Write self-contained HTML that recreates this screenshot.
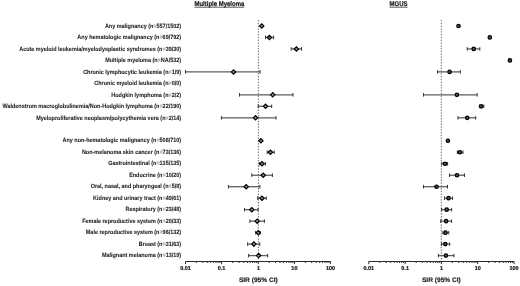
<!DOCTYPE html><html><head><meta charset="utf-8"><style>html,body{margin:0;padding:0;background:#fff;width:520px;height:286px;overflow:hidden}svg{display:block;will-change:transform}text{font-family:"Liberation Sans",sans-serif;font-weight:bold;fill:#1c1c1c;stroke:#1c1c1c;stroke-width:0.07px;text-rendering:geometricPrecision}</style></head><body>
<svg width="520" height="286" viewBox="0 0 520 286">
<g>
<text transform="translate(219.4,6.0) scale(0.88,1)" font-size="6.8" text-anchor="middle" style="stroke:#111;stroke-width:0.2px">Multiple Myeloma</text>
<line x1="194.5" x2="244.2" y1="7.2" y2="7.2" stroke="#111" stroke-width="0.7"/>
<text transform="translate(398.5,6.0) scale(0.88,1)" font-size="6.8" text-anchor="middle" style="stroke:#111;stroke-width:0.2px">MGUS</text>
<line x1="389.5" x2="407.6" y1="7.2" y2="7.2" stroke="#111" stroke-width="0.7"/>
<text transform="translate(181.1,27.66) scale(0.901,1)" font-size="6.05" text-anchor="end">Any malignancy (n<tspan fill="#888" stroke="none">=</tspan>557/1502)</text>
<text transform="translate(181.1,39.14) scale(0.901,1)" font-size="6.05" text-anchor="end">Any hematologic malignancy (n<tspan fill="#888" stroke="none">=</tspan>69/792)</text>
<text transform="translate(181.1,50.62) scale(0.901,1)" font-size="6.05" text-anchor="end">Acute myeloid leukemia/myelodysplastic syndromes (n<tspan fill="#888" stroke="none">=</tspan>39/30)</text>
<text transform="translate(181.1,62.11) scale(0.901,1)" font-size="6.05" text-anchor="end">Multiple myeloma (n<tspan fill="#888" stroke="none">=</tspan>NA/532)</text>
<text transform="translate(181.1,73.59) scale(0.901,1)" font-size="6.05" text-anchor="end">Chronic lymphocytic leukemia (n<tspan fill="#888" stroke="none">=</tspan>1/9)</text>
<text transform="translate(181.1,85.07) scale(0.901,1)" font-size="6.05" text-anchor="end">Chronic myeloid leukemia (n<tspan fill="#888" stroke="none">=</tspan>0/0)</text>
<text transform="translate(181.1,96.55) scale(0.901,1)" font-size="6.05" text-anchor="end">Hodgkin lymphoma (n<tspan fill="#888" stroke="none">=</tspan>2/2)</text>
<text transform="translate(181.1,108.03) scale(0.901,1)" font-size="6.05" text-anchor="end">Waldenstrom macroglobulinemia/Non-Hodgkin lymphoma (n<tspan fill="#888" stroke="none">=</tspan>22/190)</text>
<text transform="translate(181.1,119.52) scale(0.901,1)" font-size="6.05" text-anchor="end">Myeloproliferative neoplasm/polycythemia vera (n<tspan fill="#888" stroke="none">=</tspan>2/14)</text>
<text transform="translate(181.1,142.48) scale(0.901,1)" font-size="6.05" text-anchor="end">Any non-hematologic malignancy (n<tspan fill="#888" stroke="none">=</tspan>508/710)</text>
<text transform="translate(181.1,153.96) scale(0.901,1)" font-size="6.05" text-anchor="end">Non-melanoma skin cancer (n<tspan fill="#888" stroke="none">=</tspan>73/136)</text>
<text transform="translate(181.1,165.44) scale(0.901,1)" font-size="6.05" text-anchor="end">Gastrointestinal (n<tspan fill="#888" stroke="none">=</tspan>135/135)</text>
<text transform="translate(181.1,176.93) scale(0.901,1)" font-size="6.05" text-anchor="end">Endocrine (n<tspan fill="#888" stroke="none">=</tspan>10/20)</text>
<text transform="translate(181.1,188.41) scale(0.901,1)" font-size="6.05" text-anchor="end">Oral, nasal, and pharyngeal (n<tspan fill="#888" stroke="none">=</tspan>5/8)</text>
<text transform="translate(181.1,199.89) scale(0.901,1)" font-size="6.05" text-anchor="end">Kidney and urinary tract (n<tspan fill="#888" stroke="none">=</tspan>49/61)</text>
<text transform="translate(181.1,211.37) scale(0.901,1)" font-size="6.05" text-anchor="end">Respiratory (n<tspan fill="#888" stroke="none">=</tspan>23/48)</text>
<text transform="translate(181.1,222.85) scale(0.901,1)" font-size="6.05" text-anchor="end">Female reproductive system (n<tspan fill="#888" stroke="none">=</tspan>20/33)</text>
<text transform="translate(181.1,234.34) scale(0.901,1)" font-size="6.05" text-anchor="end">Male reproductive system (n<tspan fill="#888" stroke="none">=</tspan>96/132)</text>
<text transform="translate(181.1,245.82) scale(0.901,1)" font-size="6.05" text-anchor="end">Breast (n<tspan fill="#888" stroke="none">=</tspan>31/63)</text>
<text transform="translate(181.1,257.30) scale(0.901,1)" font-size="6.05" text-anchor="end">Malignant melanoma (n<tspan fill="#888" stroke="none">=</tspan>13/19)</text>
<line x1="258.4" x2="258.4" y1="20" y2="259.5" stroke="#444" stroke-width="0.8" stroke-dasharray="1.4 1.4"/>
<line x1="441.3" x2="441.3" y1="20" y2="259.5" stroke="#444" stroke-width="0.8" stroke-dasharray="1.4 1.4"/>
<line x1="185.5" x2="330.6" y1="261.5" y2="261.5" stroke="#2a2a2a" stroke-width="1"/>
<line x1="185.50" x2="185.50" y1="261.5" y2="264.1" stroke="#222" stroke-width="0.95"/>
<line x1="196.37" x2="196.37" y1="261.5" y2="263.0" stroke="#333" stroke-width="1"/>
<line x1="202.72" x2="202.72" y1="261.5" y2="263.0" stroke="#333" stroke-width="1"/>
<line x1="207.23" x2="207.23" y1="261.5" y2="263.0" stroke="#333" stroke-width="1"/>
<line x1="210.73" x2="210.73" y1="261.5" y2="263.0" stroke="#333" stroke-width="1"/>
<line x1="213.59" x2="213.59" y1="261.5" y2="263.0" stroke="#333" stroke-width="1"/>
<line x1="216.01" x2="216.01" y1="261.5" y2="263.0" stroke="#333" stroke-width="1"/>
<line x1="218.10" x2="218.10" y1="261.5" y2="263.0" stroke="#333" stroke-width="1"/>
<line x1="219.95" x2="219.95" y1="261.5" y2="263.0" stroke="#333" stroke-width="1"/>
<line x1="221.60" x2="221.60" y1="261.5" y2="264.1" stroke="#222" stroke-width="0.95"/>
<line x1="232.65" x2="232.65" y1="261.5" y2="263.0" stroke="#333" stroke-width="1"/>
<line x1="239.11" x2="239.11" y1="261.5" y2="263.0" stroke="#333" stroke-width="1"/>
<line x1="243.70" x2="243.70" y1="261.5" y2="263.0" stroke="#333" stroke-width="1"/>
<line x1="247.25" x2="247.25" y1="261.5" y2="263.0" stroke="#333" stroke-width="1"/>
<line x1="250.16" x2="250.16" y1="261.5" y2="263.0" stroke="#333" stroke-width="1"/>
<line x1="252.62" x2="252.62" y1="261.5" y2="263.0" stroke="#333" stroke-width="1"/>
<line x1="254.74" x2="254.74" y1="261.5" y2="263.0" stroke="#333" stroke-width="1"/>
<line x1="256.62" x2="256.62" y1="261.5" y2="263.0" stroke="#333" stroke-width="1"/>
<line x1="258.30" x2="258.30" y1="261.5" y2="264.1" stroke="#222" stroke-width="0.95"/>
<line x1="269.17" x2="269.17" y1="261.5" y2="263.0" stroke="#333" stroke-width="1"/>
<line x1="275.52" x2="275.52" y1="261.5" y2="263.0" stroke="#333" stroke-width="1"/>
<line x1="280.03" x2="280.03" y1="261.5" y2="263.0" stroke="#333" stroke-width="1"/>
<line x1="283.53" x2="283.53" y1="261.5" y2="263.0" stroke="#333" stroke-width="1"/>
<line x1="286.39" x2="286.39" y1="261.5" y2="263.0" stroke="#333" stroke-width="1"/>
<line x1="288.81" x2="288.81" y1="261.5" y2="263.0" stroke="#333" stroke-width="1"/>
<line x1="290.90" x2="290.90" y1="261.5" y2="263.0" stroke="#333" stroke-width="1"/>
<line x1="292.75" x2="292.75" y1="261.5" y2="263.0" stroke="#333" stroke-width="1"/>
<line x1="294.40" x2="294.40" y1="261.5" y2="264.1" stroke="#222" stroke-width="0.95"/>
<line x1="305.30" x2="305.30" y1="261.5" y2="263.0" stroke="#333" stroke-width="1"/>
<line x1="311.67" x2="311.67" y1="261.5" y2="263.0" stroke="#333" stroke-width="1"/>
<line x1="316.19" x2="316.19" y1="261.5" y2="263.0" stroke="#333" stroke-width="1"/>
<line x1="319.70" x2="319.70" y1="261.5" y2="263.0" stroke="#333" stroke-width="1"/>
<line x1="322.57" x2="322.57" y1="261.5" y2="263.0" stroke="#333" stroke-width="1"/>
<line x1="324.99" x2="324.99" y1="261.5" y2="263.0" stroke="#333" stroke-width="1"/>
<line x1="327.09" x2="327.09" y1="261.5" y2="263.0" stroke="#333" stroke-width="1"/>
<line x1="328.94" x2="328.94" y1="261.5" y2="263.0" stroke="#333" stroke-width="1"/>
<line x1="330.60" x2="330.60" y1="261.5" y2="264.1" stroke="#222" stroke-width="0.95"/>
<text x="185.50" y="269.8" font-size="5.5" text-anchor="middle" style="stroke:#111;stroke-width:0.22px">0.01</text>
<text x="221.60" y="269.8" font-size="5.5" text-anchor="middle" style="stroke:#111;stroke-width:0.22px">0.1</text>
<text x="258.45" y="269.8" font-size="5.5" text-anchor="middle" style="stroke:#111;stroke-width:0.22px">1</text>
<text x="294.40" y="269.8" font-size="5.5" text-anchor="middle" style="stroke:#111;stroke-width:0.22px">10</text>
<text x="330.60" y="269.8" font-size="5.5" text-anchor="middle" style="stroke:#111;stroke-width:0.22px">100</text>
<text x="258.30" y="282.1" font-size="6.6" text-anchor="middle" style="stroke:#111;stroke-width:0.15px">SIR (95% CI)</text>
<line x1="368.8" x2="514.1" y1="261.5" y2="261.5" stroke="#2a2a2a" stroke-width="1"/>
<line x1="368.80" x2="368.80" y1="261.5" y2="264.1" stroke="#222" stroke-width="0.95"/>
<line x1="379.76" x2="379.76" y1="261.5" y2="263.0" stroke="#333" stroke-width="1"/>
<line x1="386.17" x2="386.17" y1="261.5" y2="263.0" stroke="#333" stroke-width="1"/>
<line x1="390.71" x2="390.71" y1="261.5" y2="263.0" stroke="#333" stroke-width="1"/>
<line x1="394.24" x2="394.24" y1="261.5" y2="263.0" stroke="#333" stroke-width="1"/>
<line x1="397.12" x2="397.12" y1="261.5" y2="263.0" stroke="#333" stroke-width="1"/>
<line x1="399.56" x2="399.56" y1="261.5" y2="263.0" stroke="#333" stroke-width="1"/>
<line x1="401.67" x2="401.67" y1="261.5" y2="263.0" stroke="#333" stroke-width="1"/>
<line x1="403.53" x2="403.53" y1="261.5" y2="263.0" stroke="#333" stroke-width="1"/>
<line x1="405.20" x2="405.20" y1="261.5" y2="264.1" stroke="#222" stroke-width="0.95"/>
<line x1="416.10" x2="416.10" y1="261.5" y2="263.0" stroke="#333" stroke-width="1"/>
<line x1="422.47" x2="422.47" y1="261.5" y2="263.0" stroke="#333" stroke-width="1"/>
<line x1="426.99" x2="426.99" y1="261.5" y2="263.0" stroke="#333" stroke-width="1"/>
<line x1="430.50" x2="430.50" y1="261.5" y2="263.0" stroke="#333" stroke-width="1"/>
<line x1="433.37" x2="433.37" y1="261.5" y2="263.0" stroke="#333" stroke-width="1"/>
<line x1="435.79" x2="435.79" y1="261.5" y2="263.0" stroke="#333" stroke-width="1"/>
<line x1="437.89" x2="437.89" y1="261.5" y2="263.0" stroke="#333" stroke-width="1"/>
<line x1="439.74" x2="439.74" y1="261.5" y2="263.0" stroke="#333" stroke-width="1"/>
<line x1="441.40" x2="441.40" y1="261.5" y2="264.1" stroke="#222" stroke-width="0.95"/>
<line x1="452.33" x2="452.33" y1="261.5" y2="263.0" stroke="#333" stroke-width="1"/>
<line x1="458.72" x2="458.72" y1="261.5" y2="263.0" stroke="#333" stroke-width="1"/>
<line x1="463.25" x2="463.25" y1="261.5" y2="263.0" stroke="#333" stroke-width="1"/>
<line x1="466.77" x2="466.77" y1="261.5" y2="263.0" stroke="#333" stroke-width="1"/>
<line x1="469.65" x2="469.65" y1="261.5" y2="263.0" stroke="#333" stroke-width="1"/>
<line x1="472.08" x2="472.08" y1="261.5" y2="263.0" stroke="#333" stroke-width="1"/>
<line x1="474.18" x2="474.18" y1="261.5" y2="263.0" stroke="#333" stroke-width="1"/>
<line x1="476.04" x2="476.04" y1="261.5" y2="263.0" stroke="#333" stroke-width="1"/>
<line x1="477.70" x2="477.70" y1="261.5" y2="264.1" stroke="#222" stroke-width="0.95"/>
<line x1="488.66" x2="488.66" y1="261.5" y2="263.0" stroke="#333" stroke-width="1"/>
<line x1="495.07" x2="495.07" y1="261.5" y2="263.0" stroke="#333" stroke-width="1"/>
<line x1="499.61" x2="499.61" y1="261.5" y2="263.0" stroke="#333" stroke-width="1"/>
<line x1="503.14" x2="503.14" y1="261.5" y2="263.0" stroke="#333" stroke-width="1"/>
<line x1="506.02" x2="506.02" y1="261.5" y2="263.0" stroke="#333" stroke-width="1"/>
<line x1="508.46" x2="508.46" y1="261.5" y2="263.0" stroke="#333" stroke-width="1"/>
<line x1="510.57" x2="510.57" y1="261.5" y2="263.0" stroke="#333" stroke-width="1"/>
<line x1="512.43" x2="512.43" y1="261.5" y2="263.0" stroke="#333" stroke-width="1"/>
<line x1="514.10" x2="514.10" y1="261.5" y2="264.1" stroke="#222" stroke-width="0.95"/>
<text x="368.80" y="269.8" font-size="5.5" text-anchor="middle" style="stroke:#111;stroke-width:0.22px">0.01</text>
<text x="405.20" y="269.8" font-size="5.5" text-anchor="middle" style="stroke:#111;stroke-width:0.22px">0.1</text>
<text x="441.55" y="269.8" font-size="5.5" text-anchor="middle" style="stroke:#111;stroke-width:0.22px">1</text>
<text x="477.70" y="269.8" font-size="5.5" text-anchor="middle" style="stroke:#111;stroke-width:0.22px">10</text>
<text x="514.10" y="269.8" font-size="5.5" text-anchor="middle" style="stroke:#111;stroke-width:0.22px">100</text>
<text x="441.40" y="282.1" font-size="6.6" text-anchor="middle" style="stroke:#111;stroke-width:0.15px">SIR (95% CI)</text>
<path d="M259.55 25.96L261.75 23.76L263.95 25.96L261.75 28.16Z" fill="#8a8a8a" stroke="#000" stroke-width="1.15"/>
<line x1="265.5" x2="273.6" y1="37.44" y2="37.44" stroke="#5c5c5c" stroke-width="1.3"/><line x1="265.5" x2="265.5" y1="35.69" y2="39.19" stroke="#333" stroke-width="1"/><line x1="273.6" x2="273.6" y1="35.69" y2="39.19" stroke="#333" stroke-width="1"/>
<path d="M267.20 37.44L269.40 35.24L271.60 37.44L269.40 39.64Z" fill="#8a8a8a" stroke="#000" stroke-width="1.15"/>
<line x1="291.2" x2="301.5" y1="48.92" y2="48.92" stroke="#5c5c5c" stroke-width="1.3"/><line x1="291.2" x2="291.2" y1="47.17" y2="50.67" stroke="#333" stroke-width="1"/><line x1="301.5" x2="301.5" y1="47.17" y2="50.67" stroke="#333" stroke-width="1"/>
<path d="M294.20 48.92L296.40 46.72L298.60 48.92L296.40 51.12Z" fill="#8a8a8a" stroke="#000" stroke-width="1.15"/>
<line x1="185.5" x2="260.1" y1="71.89" y2="71.89" stroke="#5c5c5c" stroke-width="1.3"/><line x1="185.5" x2="185.5" y1="70.14" y2="73.64" stroke="#333" stroke-width="1"/><line x1="260.1" x2="260.1" y1="70.14" y2="73.64" stroke="#333" stroke-width="1"/>
<path d="M231.40 71.89L233.60 69.69L235.80 71.89L233.60 74.09Z" fill="#8a8a8a" stroke="#000" stroke-width="1.15"/>
<line x1="239.5" x2="293.0" y1="94.85" y2="94.85" stroke="#5c5c5c" stroke-width="1.3"/><line x1="239.5" x2="239.5" y1="93.10" y2="96.60" stroke="#333" stroke-width="1"/><line x1="293.0" x2="293.0" y1="93.10" y2="96.60" stroke="#333" stroke-width="1"/>
<path d="M270.50 94.85L272.70 92.65L274.90 94.85L272.70 97.05Z" fill="#8a8a8a" stroke="#000" stroke-width="1.15"/>
<line x1="258.2" x2="271.7" y1="106.33" y2="106.33" stroke="#5c5c5c" stroke-width="1.3"/><line x1="258.2" x2="258.2" y1="104.58" y2="108.08" stroke="#333" stroke-width="1"/><line x1="271.7" x2="271.7" y1="104.58" y2="108.08" stroke="#333" stroke-width="1"/>
<path d="M263.30 106.33L265.50 104.13L267.70 106.33L265.50 108.53Z" fill="#8a8a8a" stroke="#000" stroke-width="1.15"/>
<line x1="221.4" x2="276.0" y1="117.82" y2="117.82" stroke="#5c5c5c" stroke-width="1.3"/><line x1="221.4" x2="221.4" y1="116.07" y2="119.57" stroke="#333" stroke-width="1"/><line x1="276.0" x2="276.0" y1="116.07" y2="119.57" stroke="#333" stroke-width="1"/>
<path d="M253.30 117.82L255.50 115.62L257.70 117.82L255.50 120.02Z" fill="#8a8a8a" stroke="#000" stroke-width="1.15"/>
<path d="M258.70 140.78L260.90 138.58L263.10 140.78L260.90 142.98Z" fill="#8a8a8a" stroke="#000" stroke-width="1.15"/>
<line x1="267.2" x2="274.2" y1="152.26" y2="152.26" stroke="#5c5c5c" stroke-width="1.3"/><line x1="267.2" x2="267.2" y1="150.51" y2="154.01" stroke="#333" stroke-width="1"/><line x1="274.2" x2="274.2" y1="150.51" y2="154.01" stroke="#333" stroke-width="1"/>
<path d="M268.20 152.26L270.40 150.06L272.60 152.26L270.40 154.46Z" fill="#8a8a8a" stroke="#000" stroke-width="1.15"/>
<line x1="259.3" x2="265.4" y1="163.74" y2="163.74" stroke="#5c5c5c" stroke-width="1.3"/><line x1="259.3" x2="259.3" y1="161.99" y2="165.49" stroke="#333" stroke-width="1"/><line x1="265.4" x2="265.4" y1="161.99" y2="165.49" stroke="#333" stroke-width="1"/>
<path d="M259.80 163.74L262.00 161.54L264.20 163.74L262.00 165.94Z" fill="#8a8a8a" stroke="#000" stroke-width="1.15"/>
<line x1="251.8" x2="272.4" y1="175.23" y2="175.23" stroke="#5c5c5c" stroke-width="1.3"/><line x1="251.8" x2="251.8" y1="173.48" y2="176.98" stroke="#333" stroke-width="1"/><line x1="272.4" x2="272.4" y1="173.48" y2="176.98" stroke="#333" stroke-width="1"/>
<path d="M261.00 175.23L263.20 173.03L265.40 175.23L263.20 177.43Z" fill="#8a8a8a" stroke="#000" stroke-width="1.15"/>
<line x1="228.4" x2="259.9" y1="186.71" y2="186.71" stroke="#5c5c5c" stroke-width="1.3"/><line x1="228.4" x2="228.4" y1="184.96" y2="188.46" stroke="#333" stroke-width="1"/><line x1="259.9" x2="259.9" y1="184.96" y2="188.46" stroke="#333" stroke-width="1"/>
<path d="M244.00 186.71L246.20 184.51L248.40 186.71L246.20 188.91Z" fill="#8a8a8a" stroke="#000" stroke-width="1.15"/>
<line x1="257.6" x2="266.3" y1="198.19" y2="198.19" stroke="#5c5c5c" stroke-width="1.3"/><line x1="257.6" x2="257.6" y1="196.44" y2="199.94" stroke="#333" stroke-width="1"/><line x1="266.3" x2="266.3" y1="196.44" y2="199.94" stroke="#333" stroke-width="1"/>
<path d="M259.80 198.19L262.00 195.99L264.20 198.19L262.00 200.39Z" fill="#8a8a8a" stroke="#000" stroke-width="1.15"/>
<line x1="244.5" x2="258.1" y1="209.67" y2="209.67" stroke="#5c5c5c" stroke-width="1.3"/><line x1="244.5" x2="244.5" y1="207.92" y2="211.42" stroke="#333" stroke-width="1"/><line x1="258.1" x2="258.1" y1="207.92" y2="211.42" stroke="#333" stroke-width="1"/>
<path d="M249.60 209.67L251.80 207.47L254.00 209.67L251.80 211.87Z" fill="#8a8a8a" stroke="#000" stroke-width="1.15"/>
<line x1="249.9" x2="264.4" y1="221.15" y2="221.15" stroke="#5c5c5c" stroke-width="1.3"/><line x1="249.9" x2="249.9" y1="219.40" y2="222.90" stroke="#333" stroke-width="1"/><line x1="264.4" x2="264.4" y1="219.40" y2="222.90" stroke="#333" stroke-width="1"/>
<path d="M255.00 221.15L257.20 218.95L259.40 221.15L257.20 223.35Z" fill="#8a8a8a" stroke="#000" stroke-width="1.15"/>
<line x1="255.6" x2="260.3" y1="232.64" y2="232.64" stroke="#5c5c5c" stroke-width="1.3"/><line x1="255.6" x2="255.6" y1="230.89" y2="234.39" stroke="#333" stroke-width="1"/><line x1="260.3" x2="260.3" y1="230.89" y2="234.39" stroke="#333" stroke-width="1"/>
<path d="M256.10 232.64L258.30 230.44L260.50 232.64L258.30 234.84Z" fill="#8a8a8a" stroke="#000" stroke-width="1.15"/>
<line x1="247.6" x2="259.8" y1="244.12" y2="244.12" stroke="#5c5c5c" stroke-width="1.3"/><line x1="247.6" x2="247.6" y1="242.37" y2="245.87" stroke="#333" stroke-width="1"/><line x1="259.8" x2="259.8" y1="242.37" y2="245.87" stroke="#333" stroke-width="1"/>
<path d="M251.70 244.12L253.90 241.92L256.10 244.12L253.90 246.32Z" fill="#8a8a8a" stroke="#000" stroke-width="1.15"/>
<line x1="248.6" x2="267.7" y1="255.60" y2="255.60" stroke="#5c5c5c" stroke-width="1.3"/><line x1="248.6" x2="248.6" y1="253.85" y2="257.35" stroke="#333" stroke-width="1"/><line x1="267.7" x2="267.7" y1="253.85" y2="257.35" stroke="#333" stroke-width="1"/>
<path d="M256.40 255.60L258.60 253.40L260.80 255.60L258.60 257.80Z" fill="#8a8a8a" stroke="#000" stroke-width="1.15"/>
<circle cx="458.5" cy="25.96" r="1.7" fill="#555" stroke="#000" stroke-width="1.25"/>
<circle cx="489.8" cy="37.44" r="1.7" fill="#555" stroke="#000" stroke-width="1.25"/>
<line x1="467.2" x2="479.8" y1="48.92" y2="48.92" stroke="#5c5c5c" stroke-width="1.3"/><line x1="467.2" x2="467.2" y1="47.17" y2="50.67" stroke="#333" stroke-width="1"/><line x1="479.8" x2="479.8" y1="47.17" y2="50.67" stroke="#333" stroke-width="1"/>
<circle cx="473.7" cy="48.92" r="1.7" fill="#555" stroke="#000" stroke-width="1.25"/>
<circle cx="509.9" cy="60.41" r="1.7" fill="#555" stroke="#000" stroke-width="1.25"/>
<line x1="437.6" x2="460.3" y1="71.89" y2="71.89" stroke="#5c5c5c" stroke-width="1.3"/><line x1="437.6" x2="437.6" y1="70.14" y2="73.64" stroke="#333" stroke-width="1"/><line x1="460.3" x2="460.3" y1="70.14" y2="73.64" stroke="#333" stroke-width="1"/>
<circle cx="449.6" cy="71.89" r="1.7" fill="#555" stroke="#000" stroke-width="1.25"/>
<line x1="423.5" x2="477.2" y1="94.85" y2="94.85" stroke="#5c5c5c" stroke-width="1.3"/><line x1="423.5" x2="423.5" y1="93.10" y2="96.60" stroke="#333" stroke-width="1"/><line x1="477.2" x2="477.2" y1="93.10" y2="96.60" stroke="#333" stroke-width="1"/>
<circle cx="456.9" cy="94.85" r="1.7" fill="#555" stroke="#000" stroke-width="1.25"/>
<line x1="479.4" x2="483.8" y1="106.33" y2="106.33" stroke="#5c5c5c" stroke-width="1.3"/><line x1="479.4" x2="479.4" y1="104.58" y2="108.08" stroke="#333" stroke-width="1"/><line x1="483.8" x2="483.8" y1="104.58" y2="108.08" stroke="#333" stroke-width="1"/>
<circle cx="481.2" cy="106.33" r="1.7" fill="#555" stroke="#000" stroke-width="1.25"/>
<line x1="458.0" x2="475.7" y1="117.82" y2="117.82" stroke="#5c5c5c" stroke-width="1.3"/><line x1="458.0" x2="458.0" y1="116.07" y2="119.57" stroke="#333" stroke-width="1"/><line x1="475.7" x2="475.7" y1="116.07" y2="119.57" stroke="#333" stroke-width="1"/>
<circle cx="467.2" cy="117.82" r="1.7" fill="#555" stroke="#000" stroke-width="1.25"/>
<circle cx="447.9" cy="140.78" r="1.7" fill="#555" stroke="#000" stroke-width="1.25"/>
<line x1="457.3" x2="463.0" y1="152.26" y2="152.26" stroke="#5c5c5c" stroke-width="1.3"/><line x1="457.3" x2="457.3" y1="150.51" y2="154.01" stroke="#333" stroke-width="1"/><line x1="463.0" x2="463.0" y1="150.51" y2="154.01" stroke="#333" stroke-width="1"/>
<circle cx="459.8" cy="152.26" r="1.7" fill="#555" stroke="#000" stroke-width="1.25"/>
<line x1="441.8" x2="447.6" y1="163.74" y2="163.74" stroke="#5c5c5c" stroke-width="1.3"/><line x1="441.8" x2="441.8" y1="161.99" y2="165.49" stroke="#333" stroke-width="1"/><line x1="447.6" x2="447.6" y1="161.99" y2="165.49" stroke="#333" stroke-width="1"/>
<circle cx="445.0" cy="163.74" r="1.7" fill="#555" stroke="#000" stroke-width="1.25"/>
<line x1="449.5" x2="464.5" y1="175.23" y2="175.23" stroke="#5c5c5c" stroke-width="1.3"/><line x1="449.5" x2="449.5" y1="173.48" y2="176.98" stroke="#333" stroke-width="1"/><line x1="464.5" x2="464.5" y1="173.48" y2="176.98" stroke="#333" stroke-width="1"/>
<circle cx="457.0" cy="175.23" r="1.7" fill="#555" stroke="#000" stroke-width="1.25"/>
<line x1="423.5" x2="447.5" y1="186.71" y2="186.71" stroke="#5c5c5c" stroke-width="1.3"/><line x1="423.5" x2="423.5" y1="184.96" y2="188.46" stroke="#333" stroke-width="1"/><line x1="447.5" x2="447.5" y1="184.96" y2="188.46" stroke="#333" stroke-width="1"/>
<circle cx="436.5" cy="186.71" r="1.7" fill="#555" stroke="#000" stroke-width="1.25"/>
<line x1="444.5" x2="452.6" y1="198.19" y2="198.19" stroke="#5c5c5c" stroke-width="1.3"/><line x1="444.5" x2="444.5" y1="196.44" y2="199.94" stroke="#333" stroke-width="1"/><line x1="452.6" x2="452.6" y1="196.44" y2="199.94" stroke="#333" stroke-width="1"/>
<circle cx="448.5" cy="198.19" r="1.7" fill="#555" stroke="#000" stroke-width="1.25"/>
<line x1="441.6" x2="451.6" y1="209.67" y2="209.67" stroke="#5c5c5c" stroke-width="1.3"/><line x1="441.6" x2="441.6" y1="207.92" y2="211.42" stroke="#333" stroke-width="1"/><line x1="451.6" x2="451.6" y1="207.92" y2="211.42" stroke="#333" stroke-width="1"/>
<circle cx="446.7" cy="209.67" r="1.7" fill="#555" stroke="#000" stroke-width="1.25"/>
<line x1="440.7" x2="451.6" y1="221.15" y2="221.15" stroke="#5c5c5c" stroke-width="1.3"/><line x1="440.7" x2="440.7" y1="219.40" y2="222.90" stroke="#333" stroke-width="1"/><line x1="451.6" x2="451.6" y1="219.40" y2="222.90" stroke="#333" stroke-width="1"/>
<circle cx="446.1" cy="221.15" r="1.7" fill="#555" stroke="#000" stroke-width="1.25"/>
<line x1="442.9" x2="448.8" y1="232.64" y2="232.64" stroke="#5c5c5c" stroke-width="1.3"/><line x1="442.9" x2="442.9" y1="230.89" y2="234.39" stroke="#333" stroke-width="1"/><line x1="448.8" x2="448.8" y1="230.89" y2="234.39" stroke="#333" stroke-width="1"/>
<circle cx="445.5" cy="232.64" r="1.7" fill="#555" stroke="#000" stroke-width="1.25"/>
<line x1="441.4" x2="449.7" y1="244.12" y2="244.12" stroke="#5c5c5c" stroke-width="1.3"/><line x1="441.4" x2="441.4" y1="242.37" y2="245.87" stroke="#333" stroke-width="1"/><line x1="449.7" x2="449.7" y1="242.37" y2="245.87" stroke="#333" stroke-width="1"/>
<circle cx="445.3" cy="244.12" r="1.7" fill="#555" stroke="#000" stroke-width="1.25"/>
<line x1="438.4" x2="453.9" y1="255.60" y2="255.60" stroke="#5c5c5c" stroke-width="1.3"/><line x1="438.4" x2="438.4" y1="253.85" y2="257.35" stroke="#333" stroke-width="1"/><line x1="453.9" x2="453.9" y1="253.85" y2="257.35" stroke="#333" stroke-width="1"/>
<circle cx="445.9" cy="255.60" r="1.7" fill="#555" stroke="#000" stroke-width="1.25"/>
</g></svg></body></html>
